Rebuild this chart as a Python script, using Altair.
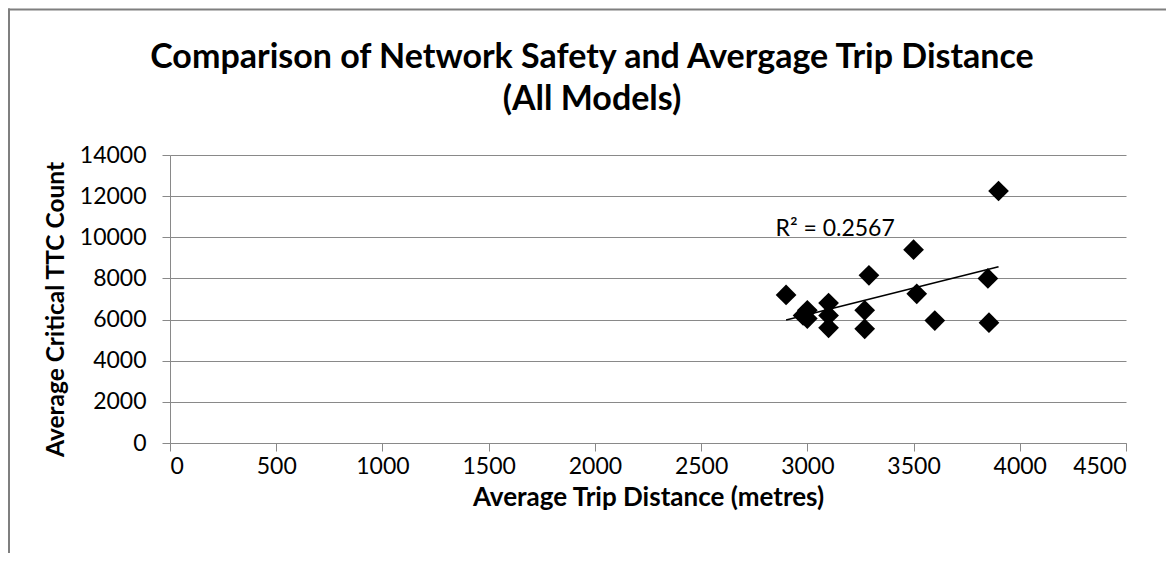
import altair as alt
import pandas as pd

# Data
trip_distance = [2900, 2980, 3000, 3000, 3100, 3100, 3100, 3270, 3270, 3290,
                 3500, 3515, 3600, 3850, 3855, 3900]
ttc_count = [7200, 6200, 6450, 6050, 6800, 6200, 5600, 6450, 5550, 8150,
             9400, 7250, 5950, 8000, 5850, 12250]
x_ticks = [0, 500, 1000, 1500, 2000, 2500, 3000, 3500, 4000, 4500]
y_ticks = [0, 2000, 4000, 6000, 8000, 10000, 12000, 14000]
r2_label = ["R\u00b2 = 0.2567"]
r2_pos_x = [2850]
r2_pos_y = [10080]

df = pd.DataFrame({"dist": trip_distance, "ttc": ttc_count})
lab = pd.DataFrame({"label": r2_label, "x": r2_pos_x, "y": r2_pos_y})

FONT = "Lato"
GRID = "#898989"

xs = alt.Scale(domain=[0, 4500], nice=False)
ys = alt.Scale(domain=[0, 14000], nice=False)

xaxis = alt.Axis(values=x_ticks, format="d", title="Average Trip Distance (metres)",
                 grid=False, tickSize=8, labelPadding=4,
                 titleY=54, titleBaseline="middle", titleFontSize=26)
yaxis = alt.Axis(values=y_ticks, format="d", title="Average Critical TTC Count",
                 grid=True, tickSize=8, labelPadding=16,
                 titleX=-114, titleY=154, titleAngle=270,
                 titleBaseline="middle", titleAlign="center", titleFontSize=24.5)

points = alt.Chart(df).mark_point(shape="diamond", filled=True, color="black",
                                  size=430, opacity=1).encode(
    x=alt.X("dist:Q", scale=xs, axis=xaxis),
    y=alt.Y("ttc:Q", scale=ys, axis=yaxis),
)

trend = alt.Chart(df).transform_regression("dist", "ttc").mark_line(
    color="black", strokeWidth=1.6
).encode(
    x=alt.X("dist:Q", scale=xs),
    y=alt.Y("ttc:Q", scale=ys),
)

r2 = alt.Chart(lab).mark_text(font=FONT, fontSize=23, color="black",
                              align="left", baseline="alphabetic").encode(
    x=alt.X("x:Q", scale=xs),
    y=alt.Y("y:Q", scale=ys),
    text="label:N",
)

frame_top = alt.Chart(lab).mark_rule(color="#7f7f7f", strokeWidth=2).encode(
    x=alt.value(-162), x2=alt.value(1010), y=alt.value(-145.5)
)
frame_left = alt.Chart(lab).mark_rule(color="#7f7f7f", strokeWidth=2).encode(
    x=alt.value(-161), y=alt.value(-146.5), y2=alt.value(400)
)

chart = alt.layer(frame_top, frame_left, points, trend, r2).properties(
    width=956,
    height=288,
    autosize=alt.AutoSizeParams(type="none"),
    padding={"left": 162, "top": 147, "right": 40, "bottom": 110},
    title=alt.TitleParams(
        text=["Comparison of Network Safety and Avergage Trip Distance", "(All Models)"],
        font=FONT, fontSize=34, fontWeight="bold", color="black",
        anchor="middle", dx=-56, offset=40, dy=149, lineHeight=42,
    ),
).configure_view(stroke=None).configure_axis(
    labelFont=FONT, labelFontSize=23, labelColor="black",
    titleFont=FONT, titleFontWeight="bold", titleColor="black",
    domainColor=GRID, tickColor=GRID, gridColor=GRID,
    domainWidth=1, tickWidth=1, gridWidth=1,
)

chart.save("out.html", embed_options={"renderer": "svg", "actions": False})
